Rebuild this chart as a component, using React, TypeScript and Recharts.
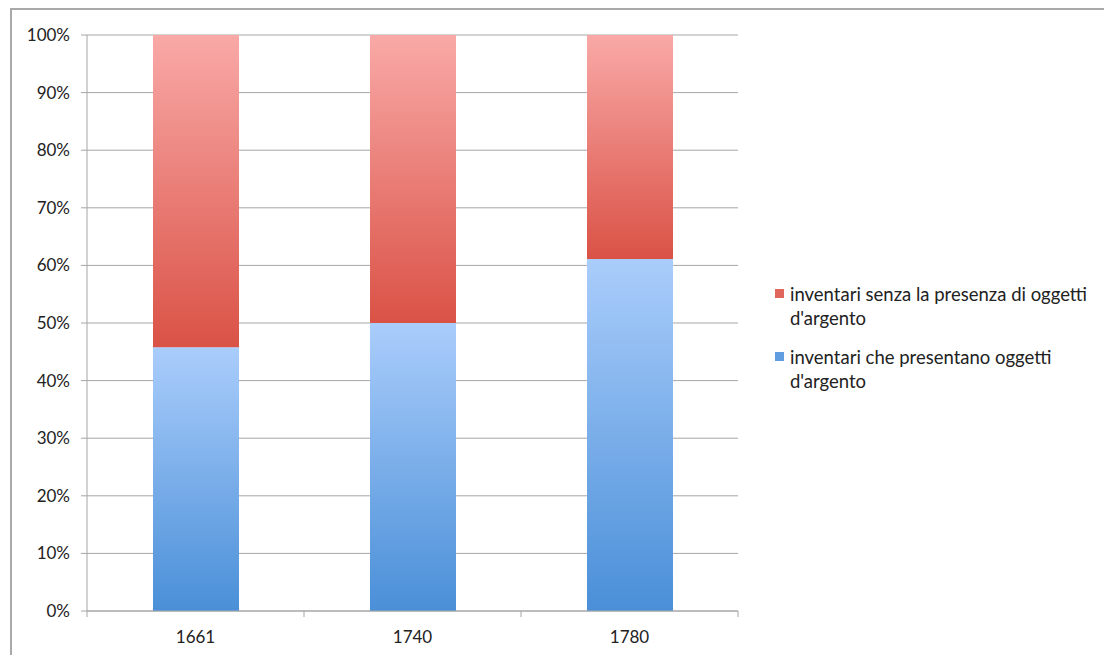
import { Bar, BarChart, CartesianGrid, XAxis, YAxis } from "recharts";

const years = ["1661", "1740", "1780"];
const withSilver = [45.8, 50, 61.1];
const withoutSilver = [54.2, 50, 38.9];
const yTicks = [0, 10, 20, 30, 40, 50, 60, 70, 80, 90, 100];

const LABEL_RED = "inventari senza la presenza di oggetti d'argento";
const LABEL_BLUE = "inventari che presentano oggetti d'argento";

const data = years.map((year, i) => ({
  year,
  blue: withSilver[i],
  red: withoutSilver[i],
}));

const FONT = "Lato, 'Open Sans', sans-serif";
const AXIS_GREY = "#a6a6a6";

// x tick: label centred, plus boundary tick marks between categories
function YearTick(props: any) {
  const { x, y, payload, index } = props;
  const half = 651 / years.length / 2;
  return (
    <g>
      <line x1={x - half} x2={x - half} y1={y - 8} y2={y - 2} stroke={AXIS_GREY} />
      {index === years.length - 1 && (
        <line x1={x + half} x2={x + half} y1={y - 8} y2={y - 2} stroke={AXIS_GREY} />
      )}
      <text x={x} y={y + 24} textAnchor="middle" fill="#222" fontSize={17} fontFamily={FONT}>
        {payload.value}
      </text>
    </g>
  );
}

function LegendBox() {
  const items = [
    { color: "#e0665c", lines: ["inventari senza la presenza di oggetti", "d'argento"] },
    { color: "#5f9ce0", lines: ["inventari che presentano oggetti", "d'argento"] },
  ];
  return (
    <div
      style={{
        position: "absolute",
        left: 775,
        top: 282,
        width: 330,
        fontFamily: FONT,
        fontSize: 18.5,
        color: "#222",
        lineHeight: "24px",
        whiteSpace: "nowrap",
      }}
    >
      {items.map((it, i) => (
        <div key={i} style={{ display: "flex", marginBottom: i === 0 ? 15 : 0 }}>
          <span
            style={{
              width: 9,
              height: 9,
              background: it.color,
              marginTop: 7,
              marginRight: 6,
              flex: "none",
            }}
          />
          <div>
            {it.lines.map((l, j) => (
              <div key={j}>{l}</div>
            ))}
          </div>
        </div>
      ))}
    </div>
  );
}

export default function App() {
  return (
    <div
      style={{
        position: "fixed",
        left: 0,
        top: 0,
        width: 1104,
        height: 655,
        background: "#fff",
        overflow: "hidden",
      }}
    >
      <div
        style={{
          position: "absolute",
          left: 10,
          top: 8,
          width: 1200,
          height: 800,
          border: "2px solid #a9a9a9",
          borderRight: "none",
          borderBottom: "none",
        }}
      />
      <BarChart
        width={1104}
        height={655}
        data={data}
        margin={{ top: 35, right: 366, bottom: 14, left: 0 }}
        style={{ position: "absolute", left: 0, top: 0 }}
      >
        <defs>
          <linearGradient id="gBlue" x1="0" y1="0" x2="0" y2="1">
            <stop offset="0%" stopColor="#aacdfb" />
            <stop offset="100%" stopColor="#4a8fd8" />
          </linearGradient>
          <linearGradient id="gRed" x1="0" y1="0" x2="0" y2="1">
            <stop offset="0%" stopColor="#f9a9a7" />
            <stop offset="100%" stopColor="#da5246" />
          </linearGradient>
        </defs>
        <CartesianGrid vertical={false} stroke={AXIS_GREY} strokeWidth={1} />
        <XAxis
          dataKey="year"
          height={30}
          axisLine={{ stroke: AXIS_GREY }}
          tickLine={false}
          tick={<YearTick />}
          interval={0}
        />
        <YAxis
          width={87}
          domain={[0, 100]}
          ticks={yTicks}
          tickFormatter={(v) => `${v}%`}
          axisLine={{ stroke: AXIS_GREY }}
          tickLine={{ stroke: AXIS_GREY }}
          tickSize={6}
          tick={{ fill: "#222", fontSize: 17, fontFamily: FONT, dx: -9 }}
          interval={0}
        />
        <Bar
          dataKey="blue"
          name={LABEL_BLUE}
          stackId="s"
          fill="url(#gBlue)"
          barSize={86}
          isAnimationActive={false}
        />
        <Bar
          dataKey="red"
          name={LABEL_RED}
          stackId="s"
          fill="url(#gRed)"
          barSize={86}
          isAnimationActive={false}
        />
      </BarChart>
      <LegendBox />
    </div>
  );
}
